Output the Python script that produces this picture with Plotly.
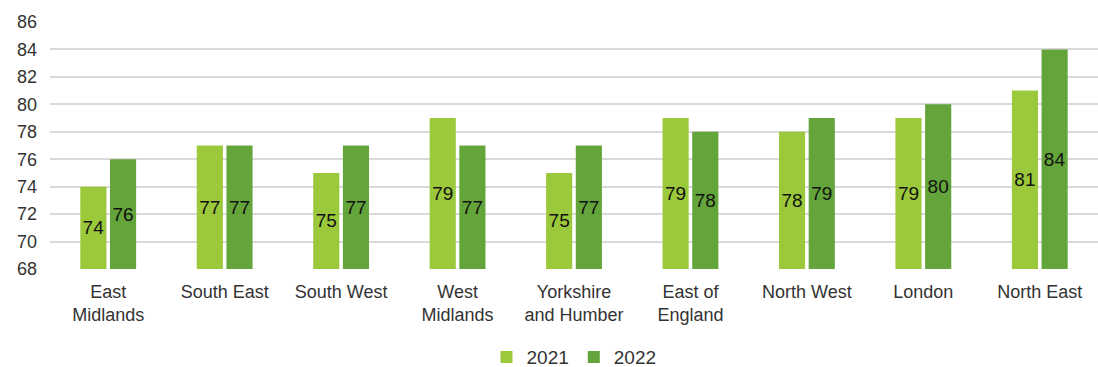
import plotly.graph_objects as go

regions = ["East<br>Midlands", "South East", "South West", "West<br>Midlands",
           "Yorkshire<br>and Humber", "East of<br>England", "North West",
           "London", "North East"]
values_2021 = [74, 77, 75, 79, 75, 79, 78, 79, 81]
values_2022 = [76, 77, 77, 77, 77, 78, 79, 80, 84]
y_ticks = list(range(68, 87, 2))

font_family = "Liberation Sans, Arial, sans-serif"

fig = go.Figure()
for name, vals, colour in [("2021", values_2021, "#9BC93B"),
                           ("2022", values_2022, "#63A53A")]:
    fig.add_trace(go.Bar(
        x=regions, y=[v - 68 for v in vals], base=68, name=name,
        marker=dict(color=colour, line=dict(width=0)),
        text=[str(v) for v in vals], textposition="inside",
        insidetextanchor="middle", textangle=0, constraintext="none",
        textfont=dict(family=font_family, size=19, color="#111111"),
        hoverinfo="skip",
    ))

fig.update_layout(
    width=1098, height=367,
    margin=dict(l=50, r=0, t=22, b=98),
    paper_bgcolor="white", plot_bgcolor="white",
    barmode="group", bargap=0.49, bargroupgap=0.12,
    font=dict(family=font_family, size=18, color="#333333"),
    legend=dict(orientation="h", x=0.50, xanchor="center",
                yref="container", y=0.027, yanchor="middle",
                font=dict(size=19), itemwidth=30, tracegroupgap=0),
    yaxis=dict(range=[68, 86], tickvals=y_ticks, showgrid=True,
               gridcolor="#D9D9D9", gridwidth=1.5, zeroline=False,
               ticks="", ticklen=0, ticklabelstandoff=12,
               tickfont=dict(size=18, color="#333333")),
    xaxis=dict(showgrid=False, ticks="", ticklabelstandoff=10,
               tickfont=dict(size=18, color="#333333"), showline=False),
)

fig.write_html("out.html")
